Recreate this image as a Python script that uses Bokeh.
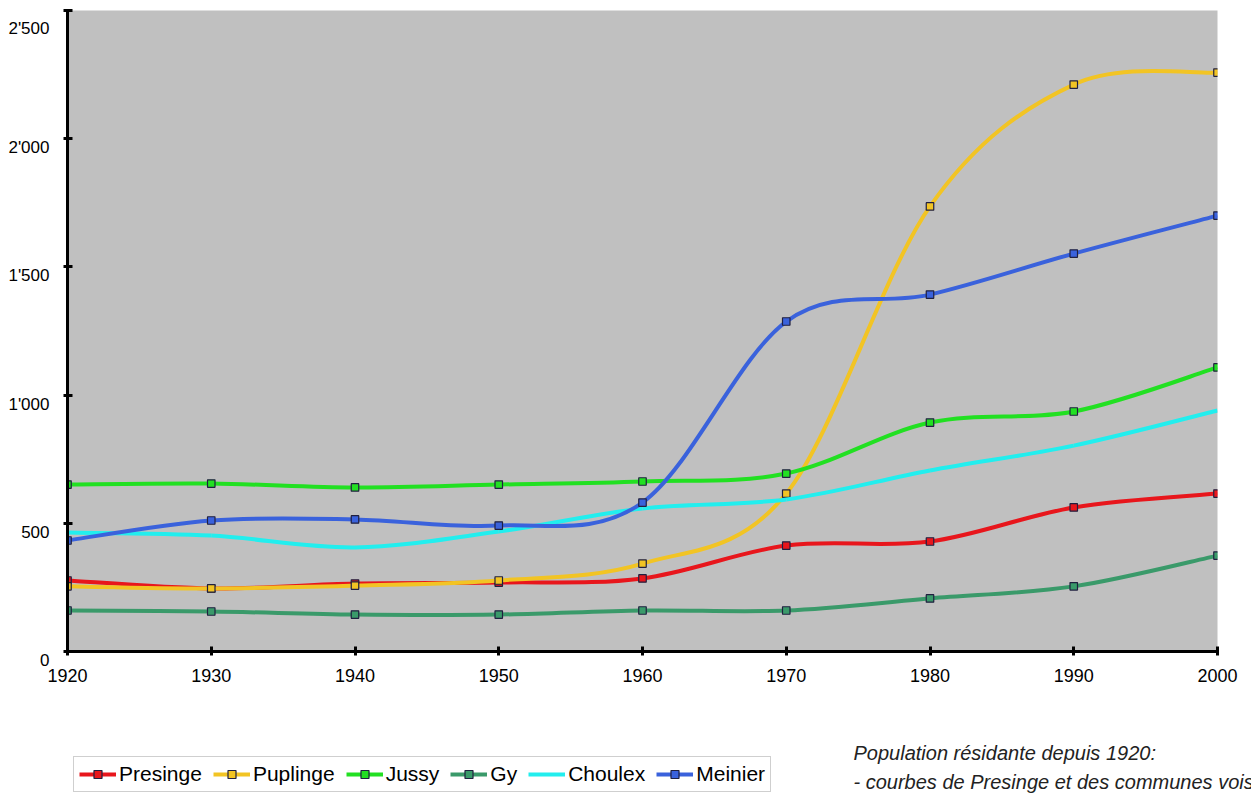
import numpy as np
from bokeh.plotting import figure
from bokeh.layouts import column
from bokeh.models import ColumnDataSource, FixedTicker, Legend, LegendItem, Label, Range1d
from bokeh.embed import file_html
from bokeh.resources import INLINE

# ---- data -------------------------------------------------------------
years = [1920, 1930, 1940, 1950, 1960, 1970, 1980, 1990, 2000]
presinge = [277, 246, 265, 269, 285, 413, 429, 562, 616]
puplinge = [254, 246, 257, 277, 343, 616, 1736, 2211, 2258]
jussy = [651, 655, 640, 651, 663, 694, 893, 936, 1108]
gy = [160, 156, 144, 144, 160, 160, 207, 254, 374]
choulex = [464, 452, 406, 468, 558, 593, 706, 803, 940]
meinier = [433, 511, 515, 491, 581, 1287, 1392, 1552, 1700]

names = ["Presinge", "Puplinge", "Jussy", "Gy", "Choulex", "Meinier"]
series = [presinge, puplinge, jussy, gy, choulex, meinier]
colors = ["#E8161C", "#F2C424", "#22E022", "#3A9A6A", "#22EEEE", "#3A62DC"]
has_markers = [True, True, True, True, False, True]

y_ticks = [0, 500, 1000, 1500, 2000, 2500]

note_lines = ["Population résidante depuis 1920:",
              "- courbes de Presinge et des communes voisines"]

FONT = "Liberation Sans"
LW = 4


def smooth_segments(xs, ys, t=1.0 / 6.0):
    """Catmull-Rom style cubic Bezier segments through the data points."""
    xs = np.asarray(xs, dtype=float)
    ys = np.asarray(ys, dtype=float)
    n = len(xs)
    d = dict(x0=[], y0=[], x1=[], y1=[], cx0=[], cy0=[], cx1=[], cy1=[])
    for i in range(n - 1):
        a = max(i - 1, 0)
        b = min(i + 2, n - 1)
        d["x0"].append(xs[i]); d["y0"].append(ys[i])
        d["x1"].append(xs[i + 1]); d["y1"].append(ys[i + 1])
        d["cx0"].append(xs[i] + (xs[i + 1] - xs[a]) * t)
        d["cy0"].append(ys[i] + (ys[i + 1] - ys[a]) * t)
        d["cx1"].append(xs[i + 1] - (xs[b] - xs[i]) * t)
        d["cy1"].append(ys[i + 1] - (ys[b] - ys[i]) * t)
    return ColumnDataSource(d)


# ---- main chart -------------------------------------------------------
p = figure(width=1251, height=700, output_backend="svg", toolbar_location=None,
           x_range=Range1d(1920, 2000), y_range=Range1d(0, 2500),
           min_border_left=67, min_border_right=34, min_border_top=10,
           min_border_bottom=49)
p.frame_align = False

p.background_fill_color = "#C0C0C0"
p.border_fill_color = "white"
p.outline_line_color = None
p.xgrid.grid_line_color = None
p.ygrid.grid_line_color = None

for name, vals, col, mk in zip(names, series, colors, has_markers):
    src = smooth_segments(years, vals)
    p.bezier(x0="x0", y0="y0", x1="x1", y1="y1", cx0="cx0", cy0="cy0",
             cx1="cx1", cy1="cy1", source=src, line_color=col, line_width=LW)
    if mk:
        p.scatter(x=years, y=vals, marker="square", size=7.5,
                  fill_color=col, line_color="#202040", line_width=1.2)

for ax in (p.xaxis[0], p.yaxis[0]):
    ax.axis_line_width = 3
    ax.axis_line_color = "black"
    ax.major_tick_line_width = 3
    ax.major_tick_line_color = "black"
    ax.major_tick_in = 5
    ax.major_tick_out = 4
    ax.minor_tick_line_color = None
    ax.major_label_text_font = FONT
    ax.major_label_text_color = "black"

p.xaxis[0].ticker = FixedTicker(ticks=years)
p.xaxis[0].major_label_text_font_size = "18px"
p.xaxis[0].major_label_standoff = 13
p.yaxis[0].ticker = FixedTicker(ticks=y_ticks)
# labels sit just below their tick in the reference: an empty first line
# pushes the visible line down
p.yaxis[0].major_label_overrides = {v: "\n" + f"{v:,}".replace(",", "'") for v in y_ticks}
p.yaxis[0].major_label_text_font_size = "17px"
p.yaxis[0].major_label_text_line_height = 0.95
p.yaxis[0].major_label_standoff = 14

# ---- bottom strip: legend + note --------------------------------------
q = figure(width=1251, height=93, output_backend="svg", toolbar_location=None,
           x_range=Range1d(0, 1), y_range=Range1d(0, 1),
           x_axis_location=None, y_axis_location=None,
           min_border_left=0, min_border_right=0, min_border_top=0,
           min_border_bottom=0)
q.frame_align = False
q.xgrid.grid_line_color = None
q.ygrid.grid_line_color = None
q.outline_line_color = None
q.background_fill_color = "white"
q.border_fill_color = "white"

items = []
for name, vals, col, mk in zip(names, series, colors, has_markers):
    # legend proxies drawn from the data; the strip's ranges keep them out of view
    rends = [q.line(x=years, y=vals, line_color=col, line_width=LW)]
    if mk:
        rends.append(q.scatter(x=years, y=vals, marker="square", size=8,
                               fill_color=col, line_color="#202040",
                               line_width=1.2))
    items.append(LegendItem(label=name, renderers=rends))

legend = Legend(items=items, location=(73, 1), orientation="horizontal",
                label_text_font=FONT, label_text_font_size="21px",
                label_text_color="black",
                glyph_width=37, glyph_height=20, label_height=20,
                label_standoff=3, spacing=11, padding=5, margin=0,
                border_line_color="#A0A0A0", border_line_width=1,
                background_fill_color="white", background_fill_alpha=1.0)
q.add_layout(legend)

for i, line in enumerate(note_lines):
    q.add_layout(Label(x=853, y=41 - 29 * i, x_units="screen", y_units="screen",
                       text=line, text_font=FONT, text_font_size="20px",
                       text_font_style="italic", text_color="#222222",
                       text_baseline="alphabetic"))

layout = column(p, q, spacing=0)
open("out.html", "w").write(file_html(layout, INLINE))
